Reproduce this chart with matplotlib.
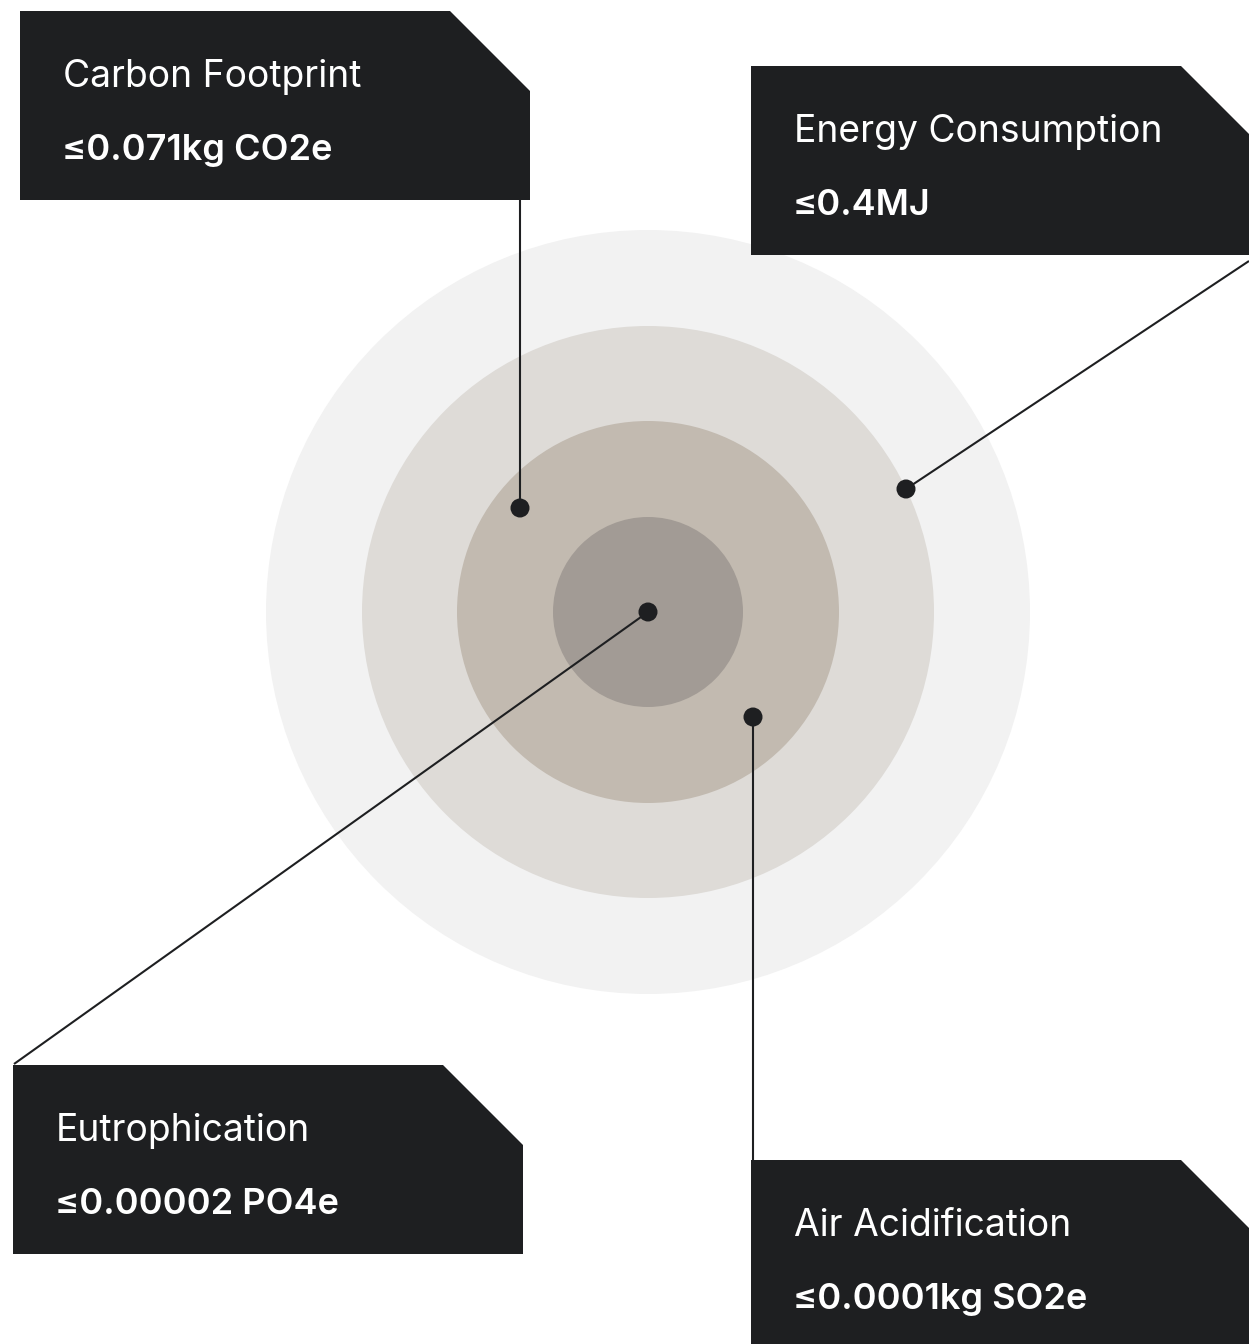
import matplotlib.pyplot as plt
from matplotlib.patches import Circle, Polygon

plt.rcParams['font.family'] = ['Inter', 'DejaVu Sans']

# 数据
titles = ['Carbon Footprint', 'Energy Consumption', 'Eutrophication', 'Air Acidification']
values = ['≤0.071kg CO2e', '≤0.4MJ', '≤0.00002 PO4e', '≤0.0001kg SO2e']
ring_radii = [382, 286, 191, 95]
ring_colors = ['#f2f2f2', '#dedbd7', '#c2bab0', '#a29b95']

# 布局 (像素坐标, y 向下)
W, H = 1249, 1344
cx, cy = 648, 612
box_pos = [(20, 11), (751, 66), (13, 1065), (751, 1160)]
box_w, box_h, cut = 510, 189, 80
dots = [(520, 508), (906, 489), (648, 612), (753, 717)]
line_ends = [(520, 200), (1249, 261), (14, 1064), (753, 1160)]
dark = '#1e1f21'

fig = plt.figure(figsize=(W / 100, H / 100), dpi=100)
ax = fig.add_axes([0, 0, 1, 1])
ax.set_xlim(0, W)
ax.set_ylim(H, 0)
ax.set_aspect('equal')
ax.axis('off')

# 同心圆
for r, c in zip(ring_radii, ring_colors):
    ax.add_patch(Circle((cx, cy), r, facecolor=c, edgecolor='none', zorder=1))

# 连线和圆点
for (dx, dy), (lx, ly) in zip(dots, line_ends):
    ax.plot([dx, lx], [dy, ly], color=dark, lw=1.5, zorder=2, solid_capstyle='butt')
    ax.add_patch(Circle((dx, dy), 9.5, facecolor=dark, edgecolor='none', zorder=3))

# 标签框
for (x0, y0), t, v in zip(box_pos, titles, values):
    pts = [(x0, y0), (x0 + box_w - cut, y0), (x0 + box_w, y0 + cut),
           (x0 + box_w, y0 + box_h), (x0, y0 + box_h)]
    ax.add_patch(Polygon(pts, closed=True, facecolor=dark, edgecolor='none', zorder=4))
    ax.text(x0 + 43, y0 + 76, t, color='white', fontsize=26.8, fontweight='normal',
            va='baseline', ha='left', zorder=5)
    ax.text(x0 + 42, y0 + 149, v, color='white', fontsize=26, fontweight='semibold',
            va='baseline', ha='left', zorder=5)

plt.savefig('out.png', dpi=100)
